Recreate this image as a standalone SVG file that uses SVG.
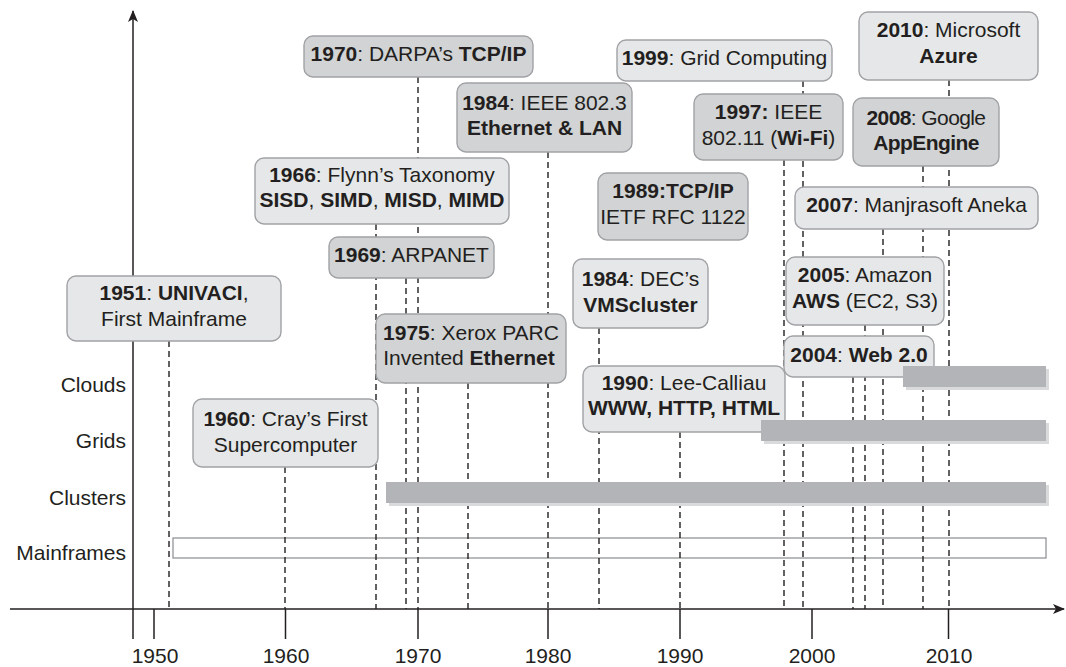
<svg xmlns="http://www.w3.org/2000/svg" width="1066" height="667" viewBox="0 0 1066 667">
<defs>
<style>
text{font-family:"Liberation Sans",Arial,sans-serif;font-size:21px;fill:#231f20;text-anchor:middle}
.b{font-weight:bold}
.lbl{text-anchor:end}
.lt{fill:#e6e7e8;stroke:#a0a2a5;stroke-width:1.4}
.dk{fill:#d1d3d4;stroke:#a0a2a5;stroke-width:1.4}
.dash{stroke:#231f20;stroke-width:1.4;stroke-dasharray:6 4;fill:none}
.axis{stroke:#231f20;stroke-width:1.5;fill:none}
.bar{fill:#b3b4b7}
.shadow{fill:#d9dadb}
</style>
<marker id="arr" viewBox="0 0 12 10" refX="11" refY="5" markerWidth="12" markerHeight="10" markerUnits="userSpaceOnUse" orient="auto">
<path d="M0,0 L12,5 L0,10 L3,5 Z" fill="#231f20"/>
</marker>
</defs>
<rect width="1066" height="667" fill="#fff"/>

<g id="mainframes-bar">
<rect x="173" y="538" width="873" height="20" fill="none" stroke="#8a8c8e" stroke-width="1.2"/>
</g>

<g id="connectors">
<line class="dash" x1="169" y1="341" x2="169" y2="609"/>
<line class="dash" x1="285" y1="467" x2="285" y2="609"/>
<line class="dash" x1="376" y1="224" x2="376" y2="609"/>
<line class="dash" x1="406" y1="278" x2="406" y2="609"/>
<line class="dash" x1="418" y1="77" x2="418" y2="609"/>
<line class="dash" x1="468" y1="383" x2="468" y2="609"/>
<line class="dash" x1="548" y1="152" x2="548" y2="609"/>
<line class="dash" x1="599" y1="328" x2="599" y2="609"/>
<line class="dash" x1="680" y1="432" x2="680" y2="609"/>
<line class="dash" x1="784" y1="160" x2="784" y2="609"/>
<line class="dash" x1="803" y1="81" x2="803" y2="609"/>
<line class="dash" x1="853" y1="377" x2="853" y2="609"/>
<line class="dash" x1="865" y1="325" x2="865" y2="609"/>
<line class="dash" x1="883" y1="229" x2="883" y2="609"/>
<line class="dash" x1="923" y1="166" x2="923" y2="609"/>
<line class="dash" x1="949" y1="80" x2="949" y2="609"/>
</g>

<g id="axes">
<line class="axis" x1="133" y1="639" x2="133" y2="11" marker-end="url(#arr)"/>
<line class="axis" x1="10" y1="609" x2="1064" y2="609" marker-end="url(#arr)"/>
<line class="axis" x1="154" y1="609" x2="154" y2="639"/>
<line class="axis" x1="285.5" y1="609" x2="285.5" y2="639"/>
<line class="axis" x1="418" y1="609" x2="418" y2="639"/>
<line class="axis" x1="548" y1="609" x2="548" y2="639"/>
<line class="axis" x1="680" y1="609" x2="680" y2="639"/>
<line class="axis" x1="812" y1="609" x2="812" y2="639"/>
<line class="axis" x1="948.5" y1="609" x2="948.5" y2="639"/>
<text x="155" y="663">1950</text>
<text x="286" y="663">1960</text>
<text x="418" y="663">1970</text>
<text x="548" y="663">1980</text>
<text x="680" y="663">1990</text>
<text x="812" y="663">2000</text>
<text x="949" y="663">2010</text>
<text class="lbl" x="126" y="392">Clouds</text>
<text class="lbl" x="126" y="448">Grids</text>
<text class="lbl" x="126" y="505">Clusters</text>
<text class="lbl" x="126" y="560">Mainframes</text>
</g>

<g id="n1951">
<rect class="lt" x="67" y="276" width="214" height="65" rx="9"/>
<text x="174" y="300"><tspan class="b">1951</tspan>: <tspan class="b">UNIVACI</tspan>,</text>
<text x="174" y="326">First Mainframe</text>
</g>
<g id="n1960">
<rect class="lt" x="193" y="399" width="185" height="68" rx="9"/>
<text x="285.5" y="426"><tspan class="b">1960</tspan>: Cray’s First</text>
<text x="285.5" y="452">Supercomputer</text>
</g>
<g id="n1966">
<rect class="lt" x="255" y="158" width="254" height="66" rx="9"/>
<text x="382" y="182"><tspan class="b">1966</tspan>: Flynn’s Taxonomy</text>
<text x="382" y="207"><tspan class="b">SISD</tspan>, <tspan class="b">SIMD</tspan>, <tspan class="b">MISD</tspan>, <tspan class="b">MIMD</tspan></text>
</g>
<g id="n1969">
<rect class="dk" x="329" y="237" width="165" height="41" rx="9"/>
<text x="411.5" y="262"><tspan class="b">1969</tspan>: ARPANET</text>
</g>
<g id="n1970">
<rect class="dk" x="304" y="36" width="229" height="41" rx="9"/>
<text x="418.5" y="61"><tspan class="b">1970</tspan>: DARPA’s <tspan class="b">TCP/IP</tspan></text>
</g>
<g id="n1975">
<rect class="dk" x="376" y="314" width="190" height="69" rx="9"/>
<text x="471" y="340"><tspan class="b">1975</tspan>: Xerox PARC</text>
<text x="469" y="365">Invented <tspan class="b">Ethernet</tspan></text>
</g>
<g id="n1984a">
<rect class="dk" x="457" y="83" width="175" height="69" rx="9"/>
<text x="544.5" y="110"><tspan class="b">1984</tspan>: IEEE 802.3</text>
<text x="544.5" y="135" class="b">Ethernet &amp; LAN</text>
</g>
<g id="n1989">
<rect class="dk" x="598" y="173" width="150" height="67" rx="9"/>
<text x="673" y="198" class="b">1989:TCP/IP</text>
<text x="673" y="224">IETF RFC 1122</text>
</g>
<g id="n1984b">
<rect class="lt" x="573" y="259" width="135" height="69" rx="9"/>
<text x="640.5" y="286"><tspan class="b">1984</tspan>: DEC’s</text>
<text x="640.5" y="312" class="b">VMScluster</text>
</g>
<g id="n1990">
<rect class="lt" x="583" y="366" width="202" height="66" rx="9"/>
<text x="684" y="390"><tspan class="b">1990</tspan>: Lee-Calliau</text>
<text x="684" y="415" class="b">WWW, HTTP, HTML</text>
</g>
<g id="n1999">
<rect class="lt" x="617" y="40" width="215" height="41" rx="9"/>
<text x="724.5" y="65"><tspan class="b">1999</tspan>: Grid Computing</text>
</g>
<g id="n1997">
<rect class="dk" x="694" y="94" width="149" height="66" rx="9"/>
<text x="768.5" y="119"><tspan class="b">1997:</tspan> IEEE</text>
<text x="768.5" y="145">802.11 (<tspan class="b">Wi-Fi</tspan>)</text>
</g>
<g id="n2010">
<rect class="lt" x="859" y="12" width="179" height="68" rx="9"/>
<text x="948.5" y="37"><tspan class="b">2010</tspan>: Microsoft</text>
<text x="948.5" y="63" class="b">Azure</text>
</g>
<g id="n2008">
<rect class="dk" x="853" y="98" width="146" height="68" rx="9"/>
<text x="926" y="125" letter-spacing="-0.6"><tspan class="b">2008</tspan>: Google</text>
<text x="926" y="150" class="b" letter-spacing="-0.6">AppEngine</text>
</g>
<g id="n2007">
<rect class="lt" x="795" y="187" width="243" height="42" rx="9"/>
<text x="916.5" y="212"><tspan class="b">2007</tspan>: Manjrasoft Aneka</text>
</g>
<g id="n2005">
<rect class="lt" x="786" y="257" width="158" height="68" rx="9"/>
<text x="865" y="282"><tspan class="b">2005</tspan>: Amazon</text>
<text x="865" y="308"><tspan class="b">AWS</tspan> (EC2, S3)</text>
</g>
<g id="n2004">
<rect class="lt" x="784" y="336" width="150" height="41" rx="9"/>
<text x="859" y="362"><tspan class="b">2004</tspan>: <tspan class="b">Web 2.0</tspan></text>
</g>

<g id="bars">
<rect class="shadow" x="906" y="369" width="143" height="21"/>
<rect class="bar" x="903" y="366" width="143" height="21"/>
<rect class="shadow" x="764" y="423" width="285" height="21"/>
<rect class="bar" x="761" y="420" width="285" height="21"/>
<rect class="shadow" x="389" y="485" width="660" height="21"/>
<rect class="bar" x="386" y="482" width="660" height="21"/>
</g>
</svg>
